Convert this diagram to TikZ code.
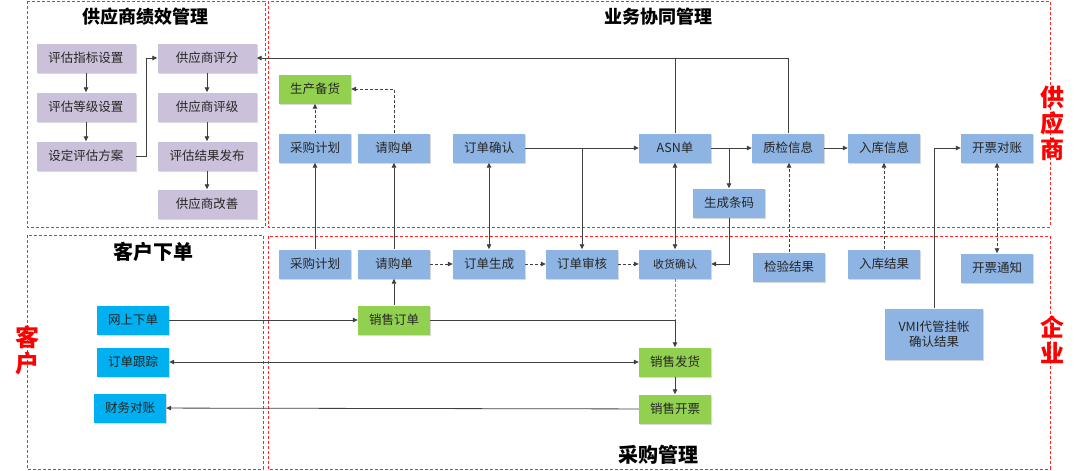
\documentclass[tikz,border=0pt]{standalone}
\usepackage{fontspec}
\setmainfont{Noto Sans CJK SC}
\usetikzlibrary{arrows.meta,shadows}
\definecolor{cPur}{HTML}{CCC1DA}
\definecolor{cBlu}{HTML}{8EB4E3}
\definecolor{cGrn}{HTML}{92D050}
\definecolor{cCyn}{HTML}{00B0F0}
\begin{document}
\begin{tikzpicture}[x=1pt,y=-1pt,
 box/.style={minimum width=72pt,minimum height=29pt,inner sep=0pt,align=center,
   font=\fontsize{12.5}{15}\selectfont,text=black!85,
   drop shadow={shadow xshift=1.2pt,shadow yshift=-1.2pt,opacity=0.3}},
 purbox/.style={box,fill=cPur,minimum width=99pt},
 blubox/.style={box,fill=cBlu},
 grnbox/.style={box,fill=cGrn},
 cynbox/.style={box,fill=cCyn},
 panel/.style={draw=red!85,dash pattern=on 3pt off 2pt,line width=0.6pt},
 ttl/.style={font=\bfseries\fontsize{18}{20}\selectfont},
 sidelbl/.style={text=red,font=\bfseries\fontsize{24}{26}\selectfont,align=center},
 conn/.style={draw=black!75,line width=0.8pt,-{Triangle[length=5pt,width=4.5pt]}},
 both/.style={conn,{Triangle[length=5pt,width=4.5pt]}-{Triangle[length=5pt,width=4.5pt]}},
 plain/.style={draw=black!75,line width=0.8pt},
 dconn/.style={conn,dash pattern=on 3pt off 2pt},
]
\useasboundingbox (0,0) rectangle (1080,471);
% panels
\draw[panel] (27,1) rectangle (265,227);
\draw[panel] (268,1) rectangle (1050,227);
\draw[panel] (27,235) rectangle (263,469);
\draw[panel] (268,236) rectangle (1050,469);
% titles
\node[ttl] (t1) at (145,17) {供应商绩效管理};
\node[ttl] (t2) at (658,17) {业务协同管理};
\node[ttl,font=\bfseries\fontsize{20}{22}\selectfont] (t3) at (153,252) {客户下单};
\node[ttl,font=\bfseries\fontsize{20}{22}\selectfont] (t4) at (658,455) {采购管理};
\node[sidelbl] (s1) at (1052,123) {供\\应\\商};
\node[sidelbl] (s2) at (1052,340) {企\\业};
\node[sidelbl] (s3) at (28,350) {客\\户};
% performance panel
\node[purbox] (zb) at (86,58) {评估指标设置};
\node[purbox] (dj) at (86,107) {评估等级设置};
\node[purbox] (fa) at (86,156) {设定评估方案};
\node[purbox] (pf) at (207,58) {供应商评分};
\node[purbox] (pj) at (207,107) {供应商评级};
\node[purbox] (fb) at (207,156) {评估结果发布};
\node[purbox] (gs) at (207,204) {供应商改善};
\draw[conn] (zb) -- (dj);
\draw[conn] (dj) -- (fa);
\draw[conn] (pf) -- (pj);
\draw[conn] (pj) -- (fb);
\draw[conn] (fb) -- (gs);
\draw[conn] (fa.east) -- ++(11,0) |- (pf.west);
% collaboration panel
\node[grnbox] (bh) at (315,89) {生产备货};
\node[blubox] (jh1) at (315,148) {采购计划};
\node[blubox] (qg1) at (394,148) {请购单};
\node[blubox] (dq) at (489,148) {订单确认};
\node[blubox] (asn) at (675,148) {ASN单};
\node[blubox] (zj) at (788,148) {质检信息};
\node[blubox] (tm) at (729,203) {生成条码};
\node[blubox] (rk) at (884,148) {入库信息};
\node[blubox] (kp) at (997,148) {开票对账};
% purchasing panel
\node[blubox] (jh2) at (315,264) {采购计划};
\node[blubox] (qg2) at (394,264) {请购单};
\node[blubox] (ds) at (489,264) {订单生成};
\node[blubox] (dsh) at (582,264) {订单审核};
\node[blubox,font=\fontsize{11}{13}\selectfont] (sh) at (675,264) {收货确认};
\node[blubox] (jy) at (789,267) {检验结果};
\node[blubox] (rj) at (884,264) {入库结果};
\node[blubox] (tz) at (997,268) {开票通知};
\node[blubox,minimum width=98pt,minimum height=51pt] (vmi) at (934,334) {VMI代管挂帐\\确认结果};
\node[grnbox] (xd) at (394,320) {销售订单};
\node[grnbox] (fh) at (675,362) {销售发货};
\node[grnbox] (kpz) at (675,409) {销售开票};
% customer panel
\node[cynbox] (ws) at (133,320) {网上下单};
\node[cynbox] (gz) at (133,362) {订单跟踪};
\node[cynbox] (cw) at (130,408) {财务对账};
% connectors
\draw[plain] (asn.north) -- (asn.north |- pf.east);
\draw[conn] (zj.north) |- (pf.east);
\draw[dconn] (jh1) -- (bh);
\draw[dconn] (qg1.north) |- (bh.east);
\draw[conn] (dq) -- (asn);
\draw[conn] (dq.east -| dsh.north) -- (dsh.north);
\draw[conn] (asn) -- (zj);
\draw[conn] (asn.east -| tm.north) -- (tm.north);
\draw[conn] (tm.south) |- (sh.east);
\draw[conn] (zj) -- (rk);
\draw[conn] (vmi.north) |- (kp.west);
\draw[dconn,{Triangle[length=5pt,width=4.5pt]}-{Triangle[length=5pt,width=4.5pt]}] (kp) -- (tz);
\draw[dconn] (rj) -- (rk);
\draw[dconn] (jy.north) -- (jy.north |- zj.south);
\draw[both] (dq) -- (ds);
\draw[both] (asn) -- (sh);
\draw[conn] (jh2) -- (jh1);
\draw[conn] (qg2) -- (qg1);
\draw[dconn] (qg2) -- (ds);
\draw[dconn] (ds) -- (dsh);
\draw[dconn] (dsh) -- (sh);
\draw[conn] (xd) -- (qg2);
\draw[conn] (ws) -- (xd);
\draw[conn] (xd.east) -| (fh.north);
\draw[plain,draw=black!50,dash pattern=on 3pt off 2pt] (sh.south) -- (sh.south |- xd.east);
\draw[both] (gz) -- (fh);
\draw[conn] (fh) -- (kpz);
\draw[conn] (kpz) -- (cw);
\end{tikzpicture}
\end{document}
